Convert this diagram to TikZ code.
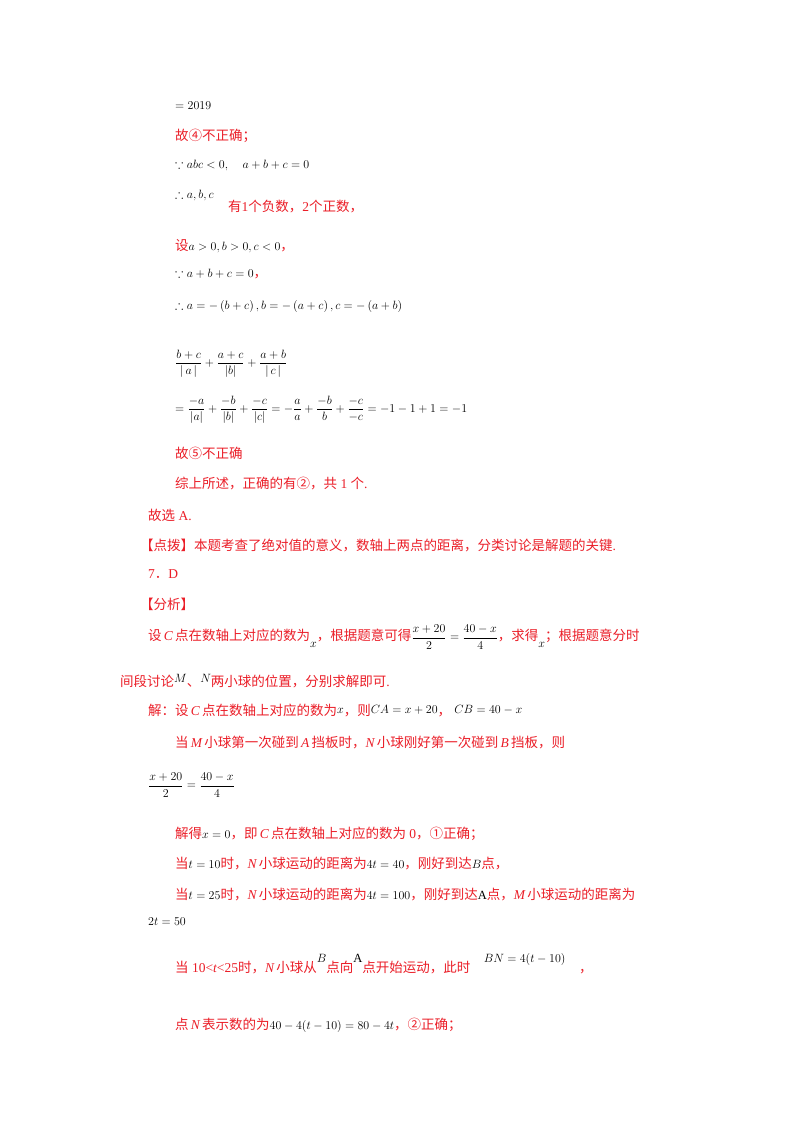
\documentclass[tikz,border=0pt]{standalone}
\usepackage{amssymb}
\usepackage{fontspec}
\setmainfont{Liberation Serif}
\newfontfamily\cjk{Noto Sans CJK SC}
\definecolor{tred}{RGB}{235,30,40}
\newcommand\R[1]{{\color{tred}\cjk #1}}
\newcommand\I[1]{{\color{tred}\rmfamily\itshape #1}}
\newcommand\M[1]{{\color{black}\fontsize{12.5}{14}\selectfont$\displaystyle #1$}}
\begin{document}
\begin{tikzpicture}[x=1pt,y=-1pt,
  ln/.style={anchor=west,inner sep=0pt,font=\fontsize{13.5}{16}\selectfont}]
\useasboundingbox[fill=white] (0,0) rectangle (800,1132);
\node[ln] (l1) at (175,106) {\M{=2019}};
\node[ln] (l2) at (175,136) {\R{故④不正确；}};
\node[ln] (l3) at (175,165) {\M{\because abc<0,\quad a+b+c=0}};
\node[ln] (l4) at (175,195) {\M{\therefore a,b,c}};
\node[ln] (l4b) at (228,207) {\R{有{\rmfamily 1}个负数，{\rmfamily 2}个正数，}};
\node[ln] (l5) at (175,246) {\R{设}\M{a>0,b>0,c<0}\R{，}};
\node[ln] (l6) at (175,274) {\M{\because a+b+c=0}\R{，}};
\node[ln] (l7) at (175,306) {\M{\therefore a=-\left(b+c\right),b=-\left(a+c\right),c=-\left(a+b\right)}};
\node[ln] (l8) at (175,364) {\M{\frac{b+c}{|\,a\,|}+\frac{a+c}{\left|b\right|}+\frac{a+b}{|\,c\,|}}};
\node[ln] (l9) at (175,410) {\M{=\frac{-a}{\left|a\right|}+\frac{-b}{\left|b\right|}+\frac{-c}{\left|c\right|}=-\frac{a}{a}+\frac{-b}{b}+\frac{-c}{-c}=-1-1+1=-1}};
\node[ln] (l10) at (175,453) {\R{故⑤不正确}};
\node[ln] (l11) at (175,484) {\R{综上所述，正确的有②，共{\rmfamily\ 1\ }个{\rmfamily .}}};
\node[ln] (l12) at (148,515) {\R{故选{\rmfamily\ A.}}};
\node[ln] (l13) at (140,545) {\R{【点拨】本题考查了绝对值的意义，数轴上两点的距离，分类讨论是解题的关键{\rmfamily .}}};
\node[ln] (l14) at (148,574) {\R{{\rmfamily 7}．{\rmfamily D}}};
\node[ln] (l15) at (140,604) {\R{【分析】}};
\node[ln] (l16) at (148,637) {\R{设\,\I{C}\,点在数轴上对应的数为}\raisebox{-7pt}{\M{x}}\R{，根据题意可得}\M{\frac{x+20}{2}=\frac{40-x}{4}}\R{，求得}\raisebox{-7pt}{\M{x}}\R{；根据题意分时}};
\node[ln] (l17) at (120,681) {\R{间段讨论}\raisebox{4pt}{\M{M}}\R{、}\raisebox{4pt}{\M{N}}\R{两小球的位置，分别求解即可{\rmfamily .}}};
\node[ln] (l18) at (148,710) {\R{解：设\,\I{C}\,点在数轴上对应的数为}\raisebox{2pt}{\M{x}}\R{，则}\raisebox{2pt}{\M{CA=x+20}}\R{，}\raisebox{2pt}{\M{\;CB=40-x}}};
\node[ln] (l19) at (175,743) {\R{当\,\I{M}\,小球第一次碰到\,\I{A}\,挡板时，\I{N}\,小球刚好第一次碰到\,\I{B}\,挡板，则}};
\node[ln] (l20) at (148,785) {\M{\frac{x+20}{2}=\frac{40-x}{4}}};
\node[ln] (l21) at (175,834) {\R{解得}\M{x=0}\R{，即\,\I{C}\,点在数轴上对应的数为{\rmfamily\ 0}，①正确；}};
\node[ln] (l22) at (175,863) {\R{当}\M{t=10}\R{时，\I{N}\,小球运动的距离为}\M{4t=40}\R{，刚好到达}\M{B}\R{点，}};
\node[ln] (l23) at (175,894) {\R{当}\M{t=25}\R{时，\I{N}\,小球运动的距离为}\M{4t=100}\R{，刚好到达}\M{\mathrm{A}}\R{点，\I{M}\,小球运动的距离为}};
\node[ln] (l24) at (148,922) {\M{2t=50}};
\node[ln] (l25) at (175,964) {\R{当{\rmfamily\ 10<}\I{t}{\rmfamily <25}时，\I{N}\,小球从}\raisebox{10pt}{\M{B}}\R{点向}\raisebox{10pt}{\M{\mathrm{A}}}\R{点开始运动，此时}\quad\raisebox{10pt}{\M{BN=4(t-10)}}\quad\R{，}};
\node[ln] (l26) at (175,1025) {\R{点\,\I{N}\,表示数的为}\M{40-4(t-10)=80-4t}\R{，②正确；}};
\end{tikzpicture}
\end{document}
